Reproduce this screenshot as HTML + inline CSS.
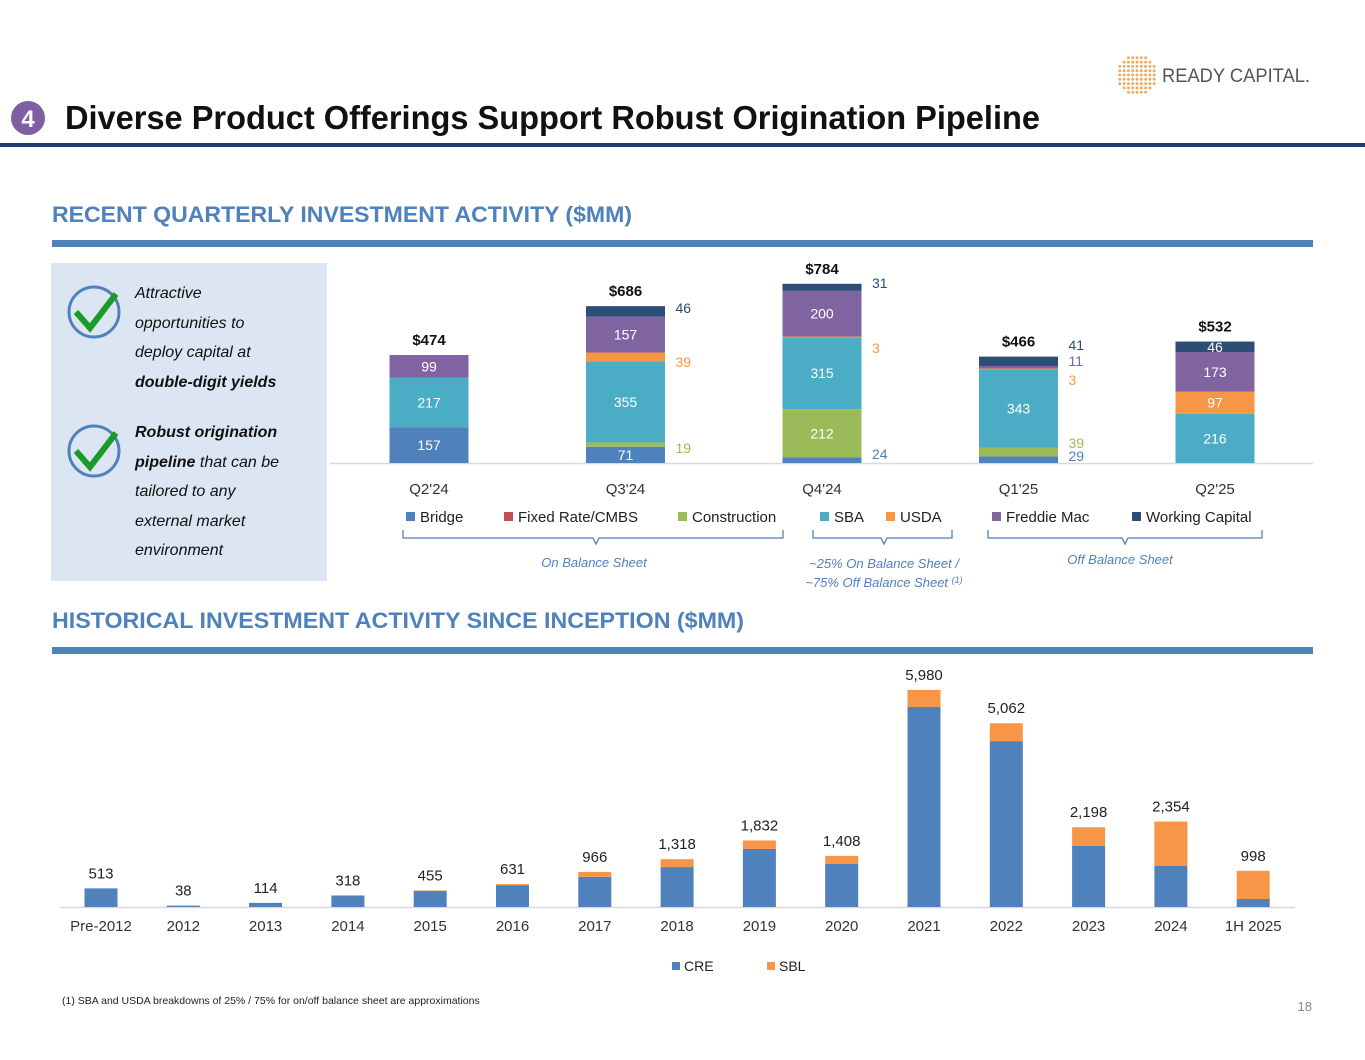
<!DOCTYPE html>
<html><head><meta charset="utf-8"><style>
body{margin:0;background:#fff;width:1365px;height:1055px;overflow:hidden;font-family:"Liberation Sans",sans-serif}
</style></head><body>
<svg id="page" width="1365" height="1055" xmlns="http://www.w3.org/2000/svg" font-family="Liberation Sans, sans-serif">
<g>
<g id="logomark" fill="#e8a04a"></g>
<text x="1162" y="82" font-size="19" fill="#555" textLength="148" lengthAdjust="spacingAndGlyphs">READY CAPITAL.</text>
</g>
<circle cx="28" cy="118" r="17" fill="#7e5fa3"/>
<text x="28" y="127" font-size="24" font-weight="bold" fill="#fff" text-anchor="middle">4</text>
<text x="65" y="129" font-size="33" font-weight="bold" fill="#111" textLength="975" lengthAdjust="spacingAndGlyphs">Diverse Product Offerings Support Robust Origination Pipeline</text>
<rect x="0" y="143" width="1365" height="4" fill="#1f3a6e"/>

<text x="52" y="222" font-size="22" font-weight="bold" fill="#4f81bd" textLength="580" lengthAdjust="spacingAndGlyphs">RECENT QUARTERLY INVESTMENT ACTIVITY ($MM)</text>
<rect x="52" y="240" width="1261" height="7" fill="#4f81bd"/>

<rect x="51" y="263" width="276" height="318" fill="#dce6f2"/>
<g><circle cx="94" cy="312" r="25" fill="none" stroke="#4f81bd" stroke-width="3"/><path d="M76 312 L90 328 L116 294" fill="none" stroke="#1a9a28" stroke-width="6"/></g>
<g><circle cx="94" cy="451" r="25" fill="none" stroke="#4f81bd" stroke-width="3"/><path d="M76 451 L90 467 L116 433" fill="none" stroke="#1a9a28" stroke-width="6"/></g>
<g font-size="16" font-style="italic" fill="#111">
<text x="135" y="298">Attractive</text><text x="135" y="328">opportunities to</text><text x="135" y="357">deploy capital at</text><text x="135" y="387" font-weight="bold">double-digit yields</text></g>
<g font-size="16" font-style="italic" fill="#111">
<text x="135" y="437" font-weight="bold">Robust origination</text><text x="135" y="467"><tspan font-weight="bold">pipeline</tspan> that can be</text><text x="135" y="496">tailored to any</text><text x="135" y="526">external market</text><text x="135" y="555">environment</text></g>

<g id="qchart"></g>
<g fill="none" stroke="#4f81bd" stroke-width="1.3">
<path d="M403 530 v8 h190 l3 6 l3 -6 h184 v-8"/><path d="M813 530 v8 h68 l3 6 l3 -6 h65 v-8"/><path d="M988 530 v8 h134 l3 6 l3 -6 h134 v-8"/></g>
<g font-size="13" font-style="italic" fill="#4f81bd" text-anchor="middle">
<text x="594" y="567">On Balance Sheet</text>
<text x="884" y="568">~25% On Balance Sheet /</text>
<text x="884" y="587">~75% Off Balance Sheet <tspan font-size="9" dy="-4">(1)</tspan></text>
<text x="1120" y="564">Off Balance Sheet</text></g>

<text x="52" y="628" font-size="22" font-weight="bold" fill="#4f81bd" textLength="692" lengthAdjust="spacingAndGlyphs">HISTORICAL INVESTMENT ACTIVITY SINCE INCEPTION ($MM)</text>
<rect x="52" y="647" width="1261" height="7" fill="#4f81bd"/>
<g id="hchart"></g>

<text x="62" y="1004" font-size="10.5" fill="#222">(1)    SBA and USDA breakdowns of 25% / 75% for on/off balance sheet are approximations</text>
<text x="1312" y="1011" font-size="13" fill="#888" text-anchor="end">18</text>
</svg>
<script>
const quarters=["Q2'24","Q3'24","Q4'24","Q1'25","Q2'25"];
const seriesNames=["Bridge","Fixed Rate/CMBS","Construction","SBA","USDA","Freddie Mac","Working Capital"];
const bridge=[157,71,24,29,0];
const fixedRate=[0,0,0,0,0];
const construction=[0,19,212,39,0];
const sba=[217,355,315,343,216];
const usda=[0,39,3,3,97];
const freddie=[99,157,200,11,173];
const workingCapital=[0,46,31,41,46];
const qTotals=["$474","$686","$784","$466","$532"];
const years=["Pre-2012","2012","2013","2014","2015","2016","2017","2018","2019","2020","2021","2022","2023","2024","1H 2025"];
const cre=[513,38,114,318,440,601,830,1100,1600,1185,5510,4570,1680,1130,220];
const sbl=[0,0,0,0,15,30,136,218,232,223,470,492,518,1224,778];
const hTotals=["513","38","114","318","455","631","966","1,318","1,832","1,408","5,980","5,062","2,198","2,354","998"];

const NS="http://www.w3.org/2000/svg";
function mk(parent,tag,attrs,text){const e=document.createElementNS(NS,tag);for(const k in attrs)e.setAttribute(k,attrs[k]);if(text!==undefined)e.textContent=text;parent.appendChild(e);return e;}
const lm=document.getElementById('logomark');
for(let r=0;r<9;r++)for(let c=0;c<9;c++){
  const dx=c-4, dy=r-4; if(Math.abs(dx)+Math.abs(dy)*0.6>5.2) continue;
  const d=mk(lm,'circle',{cx:1137+dx*4.3,cy:75+dy*4.3,r:1.5,opacity:0.85});
  
  
}
const colors=["#4f81bd","#c0504d","#9bbb59","#4bacc6","#f79646","#8064a2","#2c4d75"];
const series=[bridge,fixedRate,construction,sba,usda,freddie,workingCapital];

const q=document.getElementById('qchart');
const qBase=463, qScale=0.2283;
const qx=i=>429+i*196.5, qy=v=>qBase-v*qScale;
const ax=mk(q,'line',{x1:330,x2:1313,y1:qBase+0.5,y2:qBase+0.5,stroke:'#d9d9d9','stroke-width':1.5});


const inside=[[4,6]];
quarters.forEach((lab,i)=>{
  let cum=0;
  series.forEach((s,k)=>{
    const v=s[i]; if(!v) return;
    const r=mk(q,'rect',{x:qx(i)-39.5,y:qy(cum+v),width:79,height:v*qScale,fill:colors[k]});
    
    
    const mid=qy(cum+v/2)+5;
    let t;
    const forced=inside.some(p=>p[0]===i&&p[1]===k);
    if((v*qScale>=14 && !(k===5&&i===3))||forced){
      t=mk(q,'text',{x:qx(i),y:mid,'font-size':14,fill:'#fff','text-anchor':'middle'},String(v));
    }
    cum+=v;
    if(t){}
  });
  const tt=mk(q,'text',{x:qx(i),y:qy(cum)-10,'font-size':15,'font-weight':'bold',fill:'#111','text-anchor':'middle'},qTotals[i]);
  
  
  const xl=mk(q,'text',{x:qx(i),y:494,'font-size':15,fill:'#333','text-anchor':'middle'},lab);
  
  
});
const outs=[[1,2,"19",448],[1,4,"39",362],[1,6,"46",308],[2,0,"24",454],[2,4,"3",348],[2,6,"31",283],[3,0,"29",456],[3,2,"39",443],[3,4,"3",380],[3,5,"11",361],[3,6,"41",345]];
outs.forEach(o=>{
  const t=mk(q,'text',{x:qx(o[0])+50,y:o[3]+5,'font-size':14,fill:colors[o[1]]},o[2]);
  
  
});
const legX=[406,504,678,820,886,992,1132];
seriesNames.forEach((n,k)=>{
  const r=mk(q,'rect',{x:legX[k],y:512,width:9,height:9,fill:colors[k]});
  
  
  const t=mk(q,'text',{x:legX[k]+14,y:522,'font-size':15,fill:'#222'},n);
  
  
});

const h=document.getElementById('hchart');
const hBase=907, hScale=0.0363;
const hx=i=>101+i*82.3, hy=v=>hBase-v*hScale;
const hax=mk(h,'line',{x1:60,x2:1295,y1:hBase+0.5,y2:hBase+0.5,stroke:'#d9d9d9','stroke-width':1.5});


years.forEach((y,i)=>{
  const a=mk(h,'rect',{x:hx(i)-16.5,y:hy(cre[i]),width:33,height:cre[i]*hScale,fill:'#4f81bd'});
  
  
  const b=mk(h,'rect',{x:hx(i)-16.5,y:hy(cre[i]+sbl[i]),width:33,height:sbl[i]*hScale,fill:'#f79646'});
  
  
  const t=mk(h,'text',{x:hx(i),y:hy(cre[i]+sbl[i])-10,'font-size':15,fill:'#222','text-anchor':'middle'},hTotals[i]);
  
  
  const l=mk(h,'text',{x:hx(i),y:931,'font-size':15,fill:'#333','text-anchor':'middle'},y);
  
  
});
[["CRE","#4f81bd",672],["SBL","#f79646",767]].forEach(d=>{
  const r=mk(h,'rect',{x:d[2],y:962,width:8,height:8,fill:d[1]});
  
  
  const t=mk(h,'text',{x:d[2]+12,y:971,'font-size':14,fill:'#222'},d[0]);
  
  
});
</script>
</body></html>
